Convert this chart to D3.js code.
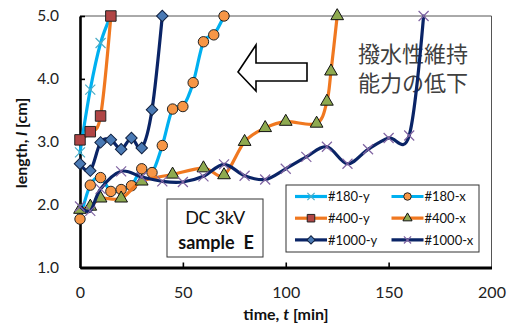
<!DOCTYPE html>
<html>
<head>
<meta charset="utf-8">
<script src="https://cdn.jsdelivr.net/npm/d3@7"></script>
<style>
  body { margin: 0; background: #fff; }
  svg text { font-family: Lato, "Noto Sans", sans-serif; }
</style>
</head>
<body>
<div id="graph"></div>
<script>
// time [min], length [cm]
var s180y = [[0, 2.83], [5, 3.83], [10, 4.57], [15, 5.0]];
var s180x = [[0, 1.77], [5, 2.31], [10, 2.43], [15, 2.21], [20, 2.24], [25, 2.3], [30, 2.57], [35, 2.51],
    [40, 2.94], [45, 3.52], [50, 3.56], [55, 3.94], [60, 4.59], [65, 4.70], [70, 5.0]];
var s400y = [[0, 3.03], [5, 3.16], [10, 3.41], [15, 5.0]];
var s400x = [[0, 1.92], [5, 1.97], [10, 2.1], [20, 2.1], [30, 2.37], [45, 2.48], [60, 2.58], [70, 2.47],
    [80, 3.0], [90, 3.22], [100, 3.32], [115, 3.29], [120, 3.64], [122, 4.12], [125, 5.0]];
var s1000y = [[0, 2.65], [5, 2.54], [10, 2.99], [15, 3.03], [20, 2.88], [25, 3.06], [30, 2.9], [35, 3.51], [40, 5.0]];
var s1000x = [[0, 1.97], [5, 1.9], [10, 2.25], [20, 2.53], [30, 2.44], [40, 2.37], [50, 2.36], [60, 2.45],
    [70, 2.64], [80, 2.46], [90, 2.4], [100, 2.57], [110, 2.76], [120, 2.92], [130, 2.65], [140, 2.88],
    [150, 3.06], [160, 3.1], [167, 5.0]];

var seriesNames = ["#180-y", "#180-x", "#400-y", "#400-x", "#1000-y", "#1000-x"];
var xTicks = [0, 50, 100, 150, 200];
var yTicks = [1, 2, 3, 4, 5];

var series = [
    { name: seriesNames[0], data: s180y, line: "#00B0F0", marker: "x", fill: "none", stroke: "#4BACC6" },
    { name: seriesNames[1], data: s180x, line: "#00B0F0", marker: "circle", fill: "#F79646", stroke: "#222" },
    { name: seriesNames[2], data: s400y, line: "#F07820", marker: "square", fill: "#B04545", stroke: "#222" },
    { name: seriesNames[3], data: s400x, line: "#F07820", marker: "triangle", fill: "#8EAA50", stroke: "#111" },
    { name: seriesNames[4], data: s1000y, line: "#0A2466", marker: "diamond", fill: "#4A7AB5", stroke: "#102040" },
    { name: seriesNames[5], data: s1000x, line: "#0A2466", marker: "x", fill: "none", stroke: "#8064A2" }
];

var W = 510, H = 327;
var svg = d3.select("#graph").append("svg").attr("width", W).attr("height", H);

var x = d3.scaleLinear().domain([0, 200]).range([80, 491.5]);
var y = d3.scaleLinear().domain([1, 5]).range([267.5, 16]);

// plot frame (top/right thin)
svg.append("path")
    .attr("d", "M" + x(0) + "," + y(5) + "H" + x(200) + "V" + y(1))
    .attr("fill", "none").attr("stroke", "#555").attr("stroke-width", 1);

// axes
var xAxis = d3.axisBottom(x).tickValues(xTicks).tickSizeInner(-5).tickSizeOuter(0).tickPadding(19);
var yAxis = d3.axisLeft(y).tickValues(yTicks).tickFormat(d3.format(".1f")).tickSizeInner(-5).tickSizeOuter(0).tickPadding(21);

var gx = svg.append("g").attr("transform", "translate(0," + y(1) + ")").call(xAxis);
var gy = svg.append("g").attr("transform", "translate(" + x(0) + ",0)").call(yAxis);
gx.select(".domain").attr("stroke", "#000").attr("stroke-width", 3.2);
gy.select(".domain").attr("stroke", "#000").attr("stroke-width", 2.6);
gx.selectAll(".tick line").attr("stroke", "#000").attr("stroke-width", 1.6);
gy.selectAll(".tick line").attr("stroke", "#000").attr("stroke-width", 1.6);
gx.selectAll(".tick text").attr("font-size", 16).attr("fill", "#222").style("font-family", "Lato, sans-serif");
gy.selectAll(".tick text").attr("font-size", 15.5).attr("fill", "#222").style("font-family", "Lato, sans-serif");
gx.selectAll(".tick").filter(function (d) { return d === 0 || d === 200; }).select("line").remove();

// axis titles
var xt = svg.append("text").attr("x", 286).attr("y", 320).attr("text-anchor", "middle")
    .attr("font-size", 16).attr("font-weight", "bold").attr("fill", "#111");
xt.append("tspan").text("time, ");
xt.append("tspan").attr("font-style", "italic").text("t");
xt.append("tspan").text(" [min]");

var yt = svg.append("text").attr("transform", "translate(27,143) rotate(-90)").attr("text-anchor", "middle")
    .attr("font-size", 16).attr("font-weight", "bold").attr("fill", "#111");
yt.append("tspan").text("length, ");
yt.append("tspan").attr("font-style", "italic").text("l");
yt.append("tspan").text(" [cm]");

// arrow and japanese note
svg.append("polygon")
    .attr("points", "238,72 256,45 256,63 307,63 307,81 256,81 256,91")
    .attr("fill", "#fff").attr("stroke", "#000").attr("stroke-width", 1.6).attr("stroke-linejoin", "miter");
var jp = svg.append("text").attr("font-size", 22).attr("fill", "#404040")
    .style("font-family", "'Noto Sans CJK JP', sans-serif");
jp.append("tspan").attr("x", 358).attr("y", 62).text("撥水性維持");
jp.append("tspan").attr("x", 358).attr("y", 91).text("能力の低下");

// smoothed lines + markers
var line = d3.line()
    .x(function (d) { return x(d[0]); })
    .y(function (d) { return y(d[1]); })
    .curve(d3.curveCatmullRom.alpha(0));

function markerPath(type, k) {
    if (type === "square") return d3.symbol(d3.symbolSquare, 110 * k * k)();
    if (type === "circle") return d3.symbol(d3.symbolCircle, 85 * k * k)();
    if (type === "triangle") return d3.symbol(d3.symbolTriangle, 70 * k * k)();
    if (type === "diamond") return d3.symbol(d3.symbolSquare, 66 * k * k)();
    var r = 5 * k;
    return "M" + (-r) + "," + (-r) + "L" + r + "," + r + "M" + (-r) + "," + r + "L" + r + "," + (-r);
}

function drawMarker(g, s, cx, cy, k) {
    var rot = s.marker === "diamond" ? " rotate(45)" : "";
    g.append("path")
        .attr("d", markerPath(s.marker, k))
        .attr("transform", "translate(" + cx + "," + cy + ")" + rot)
        .attr("fill", s.fill)
        .attr("stroke", s.stroke)
        .attr("stroke-width", s.marker === "x" ? 1.2 : 1);
}

series.forEach(function (s) {
    var g = svg.append("g");
    g.append("path").datum(s.data).attr("d", line)
        .attr("fill", "none").attr("stroke", s.line).attr("stroke-width", 3.2).attr("stroke-linecap", "round");
    s.data.forEach(function (d) { drawMarker(g, s, x(d[0]), y(d[1]), 1); });
});

// annotation box
svg.append("rect").attr("x", 167).attr("y", 199).attr("width", 96).attr("height", 58)
    .attr("fill", "#fff").attr("stroke", "#333").attr("stroke-width", 1);
svg.append("text").attr("x", 215).attr("y", 224).attr("text-anchor", "middle")
    .attr("font-size", 18).attr("letter-spacing", -0.3).attr("fill", "#111").text("DC 3kV");
svg.append("text").attr("x", 216).attr("y", 249).attr("text-anchor", "middle")
    .attr("font-size", 18).attr("font-weight", "bold").attr("fill", "#111")
    .style("white-space", "pre").text("sample  E");

// legend
svg.append("rect").attr("x", 286).attr("y", 185).attr("width", 193).attr("height", 67)
    .attr("fill", "#fff").attr("stroke", "#333").attr("stroke-width", 1);
series.forEach(function (s, i) {
    var col = i % 2, row = Math.floor(i / 2);
    var lx = col === 0 ? 295 : 391.5, ly = 196.5 + row * 21.7;
    var g = svg.append("g");
    g.append("line").attr("x1", lx).attr("x2", lx + 32).attr("y1", ly).attr("y2", ly)
        .attr("stroke", s.line).attr("stroke-width", 3.2);
    drawMarker(g, s, lx + 16, ly, 0.72);
    g.append("text").attr("x", lx + 33).attr("y", ly + 4.8).attr("font-size", 13)
        .attr("fill", "#111").text(s.name);
});
</script>
</body>
</html>
